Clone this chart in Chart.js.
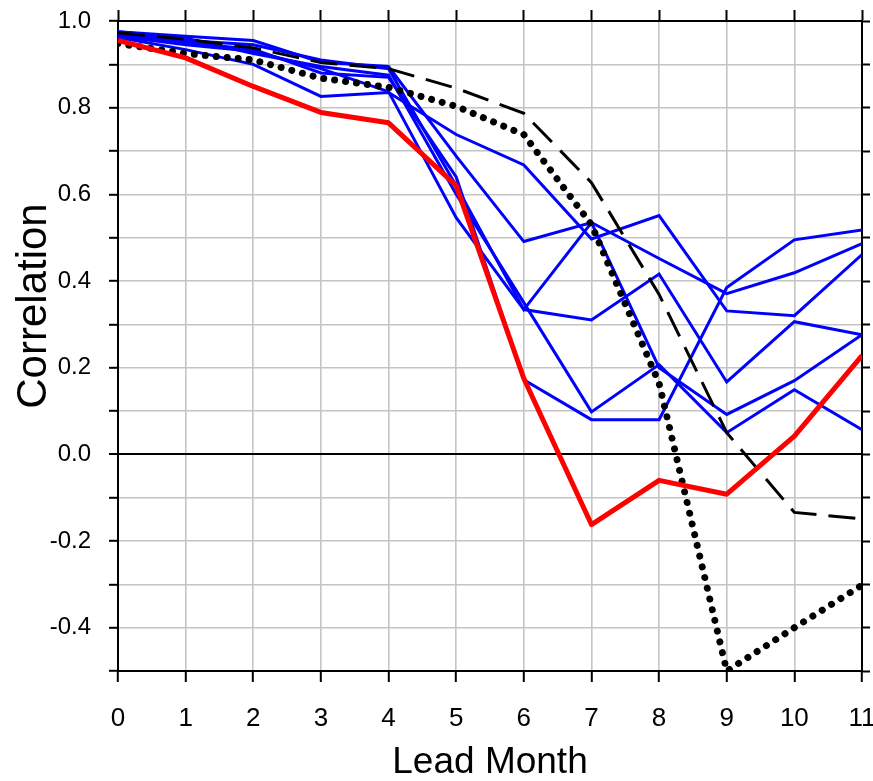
<!DOCTYPE html>
<html>
<head>
<meta charset="utf-8">
<script src="https://cdn.jsdelivr.net/npm/chart.js@4.4.0/dist/chart.umd.min.js"></script>
<style>
html,body{margin:0;padding:0;background:#fff;}
#wrap{width:873px;height:781px;}
</style>
</head>
<body>
<div id="wrap"><canvas id="c" width="873" height="781"></canvas></div>
<script>
// Lead months
const leadMonths = [0,1,2,3,4,5,6,7,8,9,10,11];
// Red (thick) series
const redSeries = [0.955,0.915,0.849,0.789,0.765,0.620,0.175,-0.162,-0.060,-0.092,0.042,0.228];
// Black dashed series
const dashedSeries = [0.973,0.958,0.938,0.904,0.890,0.845,0.787,0.627,0.369,0.050,-0.134,-0.149];
// Black dotted series
const dottedSeries = [0.948,0.925,0.910,0.868,0.847,0.803,0.738,0.530,0.164,-0.500,-0.400,-0.302];
// Blue series
const blue1 = [0.962,0.934,0.900,0.826,0.835,0.738,0.668,0.497,0.551,0.331,0.320,0.461];
const blue2 = [0.975,0.965,0.955,0.905,0.895,0.688,0.491,0.535,0.452,0.371,0.419,0.486];
const blue3 = [0.970,0.955,0.945,0.910,0.890,0.620,0.334,0.535,0.200,0.092,0.170,0.276];
const blue4 = [0.965,0.945,0.930,0.890,0.837,0.546,0.334,0.310,0.416,0.167,0.306,0.276];
const blue5 = [0.975,0.960,0.925,0.895,0.875,0.600,0.350,0.098,0.207,0.050,0.149,0.057];
const blue6 = [0.970,0.950,0.935,0.880,0.870,0.640,0.172,0.080,0.080,0.385,0.495,0.518];
const blueSeries = [blue1,blue2,blue3,blue4,blue5,blue6];

const xTitle = 'Lead Month';
const yTitle = 'Correlation';

function pts(arr){ return arr.map((v,i)=>({x:leadMonths[i], y:v})); }

const FONT = "'Liberation Sans', Arial, Helvetica, sans-serif";

const datasets = [];
datasets.push({data:pts(redSeries), borderColor:'#ff0000', borderWidth:5, borderJoinStyle:'round'});
datasets.push({data:pts(dottedSeries), borderColor:'#000000', borderWidth:7, borderDash:[0.01,11], borderCapStyle:'round'});
datasets.push({data:pts(dashedSeries), borderColor:'#000000', borderWidth:3, borderDash:[27,12], borderCapStyle:'butt'});
blueSeries.forEach(s=>datasets.push({data:pts(s), borderColor:'#0000ff', borderWidth:3}));
datasets.forEach(d=>{ d.pointRadius=0; d.tension=0; d.fill=false; });

const yTitlePlugin = {
  id:'yTitlePlugin',
  afterDraw(chart){
    const ctx = chart.ctx;
    ctx.save();
    ctx.translate(34, 306);
    ctx.rotate(-Math.PI/2);
    ctx.font = "42px " + FONT;
    ctx.fillStyle = '#000';
    ctx.textAlign = 'center';
    ctx.textBaseline = 'middle';
    ctx.fillText(yTitle, 0, 0);
    ctx.restore();
  }
};

function noPadX(s){ s.paddingLeft = 0; s.paddingRight = 0; }
function noPadY(s){ s.paddingTop = 0; s.paddingBottom = 0; }

new Chart(document.getElementById('c'), {
  type:'line',
  data:{datasets},
  options:{
    responsive:false,
    devicePixelRatio:1,
    animation:false,
    layout:{padding:0},
    plugins:{legend:{display:false}, tooltip:{enabled:false}, title:{display:false}},
    scales:{
      x:{
        type:'linear', position:'bottom', min:0, max:11,
        ticks:{stepSize:1, color:'#000', font:{family:FONT, size:26}, padding:21, maxRotation:0, autoSkip:false},
        grid:{color:'#c4c4c4', lineWidth:1.6, tickColor:'#000', tickWidth:2, tickLength:11},
        border:{display:true, color:'#000', width:2},
        title:{display:true, text:xTitle, color:'#000', font:{family:FONT, size:37, lineHeight:1}, padding:{top:0,bottom:0}},
        afterFit(s){ s.height = 110; noPadX(s); }
      },
      xTop:{
        type:'linear', position:'top', min:0, max:11,
        ticks:{stepSize:1, display:false},
        grid:{drawOnChartArea:false, tickColor:'#000', tickWidth:2, tickLength:11},
        border:{display:true, color:'#000', width:2},
        afterFit(s){ s.height = 21; noPadX(s); }
      },
      y:{
        type:'linear', position:'left', min:-0.5, max:1.0,
        ticks:{stepSize:0.1, color:'#000', font:{family:FONT, size:24}, padding:18, autoSkip:false,
          callback(v){
            const r = Math.round(v*10);
            if (r % 2 !== 0) return '';
            if (r === 0) return '0.0';
            return (r/10).toFixed(1);
          }},
        grid:{
          color(c){ return Math.abs(c.tick.value) < 1e-9 ? '#000' : '#c4c4c4'; },
          lineWidth(c){ return Math.abs(c.tick.value) < 1e-9 ? 2 : 1.6; },
          tickColor:'#000', tickWidth:2, tickLength:9
        },
        border:{display:true, color:'#000', width:2},
        afterFit(s){ s.width = 118; noPadY(s); }
      },
      yRight:{
        type:'linear', position:'right', min:-0.5, max:1.0,
        ticks:{stepSize:0.1, display:false},
        grid:{drawOnChartArea:false, tickColor:'#000', tickWidth:2, tickLength:8},
        border:{display:true, color:'#000', width:2},
        afterFit(s){ s.width = 11; noPadY(s); }
      }
    }
  },
  plugins:[yTitlePlugin]
});
</script>
</body>
</html>
